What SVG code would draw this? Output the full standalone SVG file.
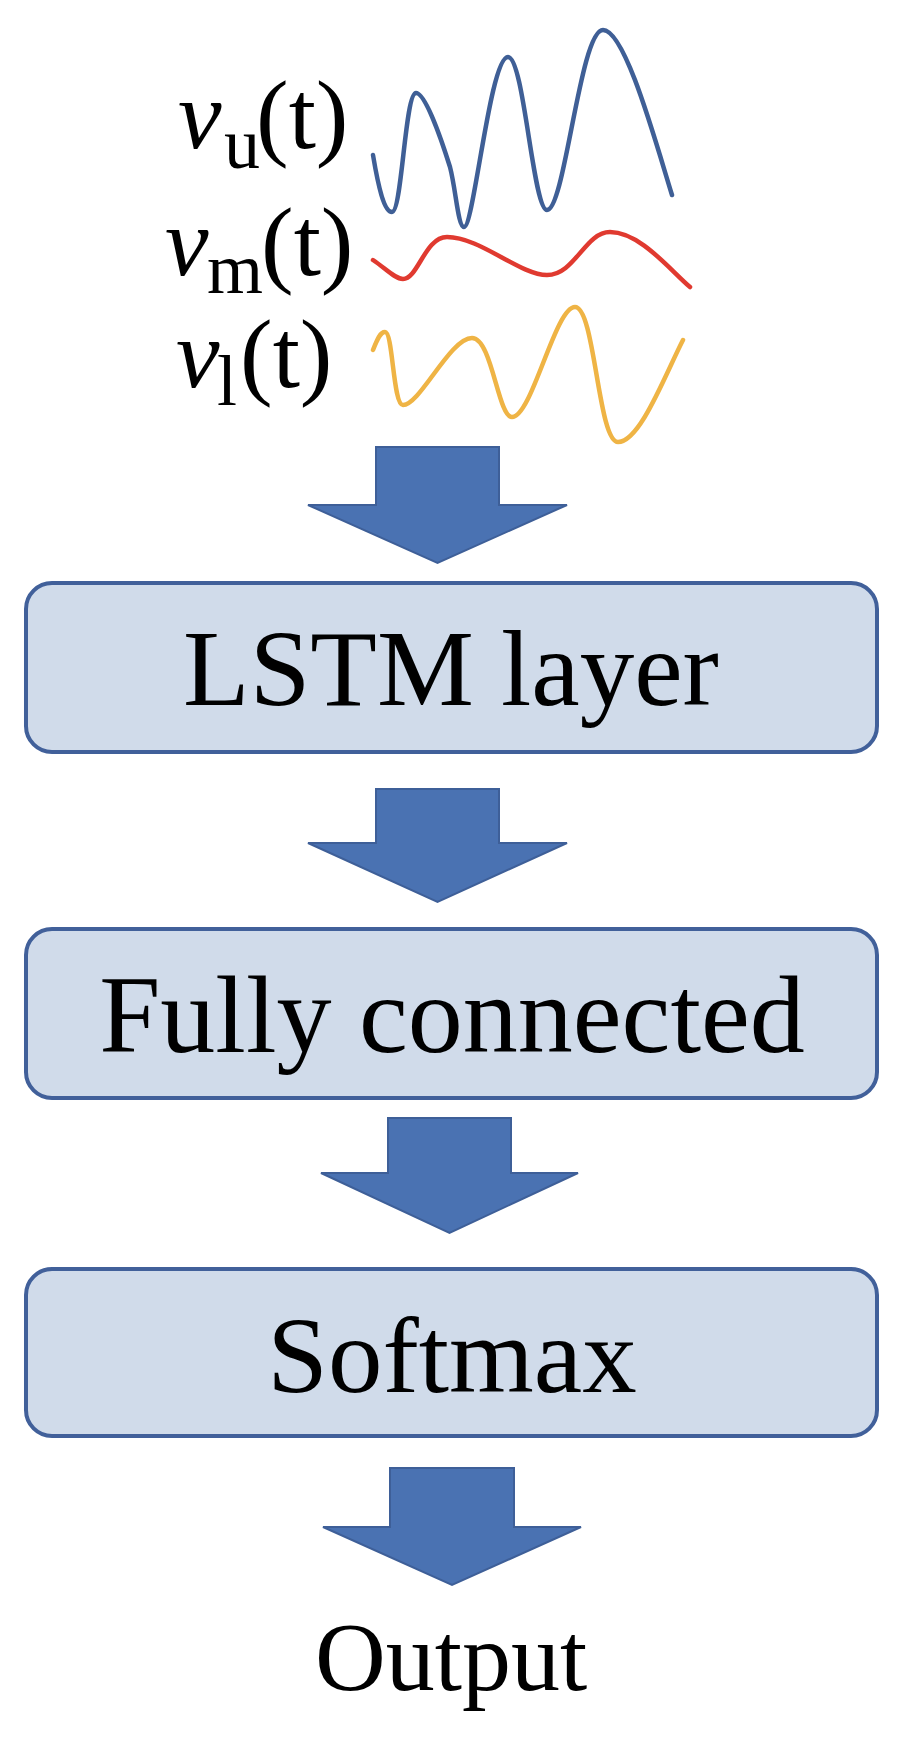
<svg xmlns="http://www.w3.org/2000/svg" width="909" height="1738" viewBox="0 0 909 1738">
<style>
.box{fill:#d0dbea;stroke:#41609a;stroke-width:4}
.arrow{fill:#4a72b2;stroke:#3e5f98;stroke-width:2;stroke-linejoin:miter}
.lbl{font-family:"Liberation Serif","Times New Roman",serif;fill:#000}
.wave{fill:none;stroke-width:4.5;stroke-linecap:round;stroke-linejoin:round}
</style>
<rect width="909" height="1738" fill="#ffffff"/>
<g id="inputs">
<text class="lbl" font-size="98"><tspan x="178" y="148" font-style="italic">v</tspan><tspan x="224" y="168" font-size="72">u</tspan><tspan x="256" y="148">(t)</tspan></text>
<text class="lbl" font-size="98"><tspan x="165" y="275" font-style="italic">v</tspan><tspan x="207" y="293" font-size="72">m</tspan><tspan x="261" y="275">(t)</tspan></text>
<text class="lbl" font-size="98"><tspan x="176" y="387" font-style="italic">v</tspan><tspan x="217" y="405" font-size="72">l</tspan><tspan x="240" y="387">(t)</tspan></text>
<path class="wave" stroke="#3f5f96" d="M373,155 C378,185 384,212 392,212 C402,212 405,93 416,93 C425,93 440,135 450,167 C456,190 458,227 464,227 C474,227 490,57 508,57 C524,57 533,210 547,210 C565,210 580,30 603,30 C625,30 655,140 672,195"/>
<path class="wave" stroke="#e03a30" d="M373,260 C385,268 395,279 403,279 C418,279 425,237 447,237 C480,237 520,275 547,275 C575,275 585,232 610,232 C640,232 670,270 690,287"/>
<path class="wave" stroke="#efb445" d="M373,350 C377,340 380,332 385,332 C393,332 393,405 403,405 C420,405 450,338 472,338 C492,338 498,417 512,417 C532,417 555,307 575,307 C595,307 598,442 618,442 C640,442 665,375 683,340"/>
</g>
<g id="connectors">
<polygon class="arrow" points="376,447 499,447 499,505 567,505 437.5,563 308,505 376,505"/>
<polygon class="arrow" points="376,789 499,789 499,843 567,843 437.5,902 308,843 376,843"/>
<polygon class="arrow" points="388,1118 511,1118 511,1173 578,1173 449.5,1233 321,1173 388,1173"/>
<polygon class="arrow" points="390,1468 514,1468 514,1527 581,1527 452,1585 323,1527 390,1527"/>
</g>
<g id="lstm">
<rect class="box" x="26" y="583" width="851" height="169" rx="26" ry="26"/>
<text class="lbl" x="451" y="705" font-size="109" text-anchor="middle">LSTM layer</text>
</g>
<g id="fully-connected">
<rect class="box" x="26" y="929" width="851" height="169" rx="26" ry="26"/>
<text class="lbl" x="452" y="1052" font-size="110" text-anchor="middle">Fully connected</text>
</g>
<g id="softmax">
<rect class="box" x="26" y="1269" width="851" height="167" rx="26" ry="26"/>
<text class="lbl" x="452" y="1392" font-size="109" text-anchor="middle">Softmax</text>
</g>
<g id="output">
<text class="lbl" x="451" y="1690" font-size="98" text-anchor="middle">Output</text>
</g>
</svg>
